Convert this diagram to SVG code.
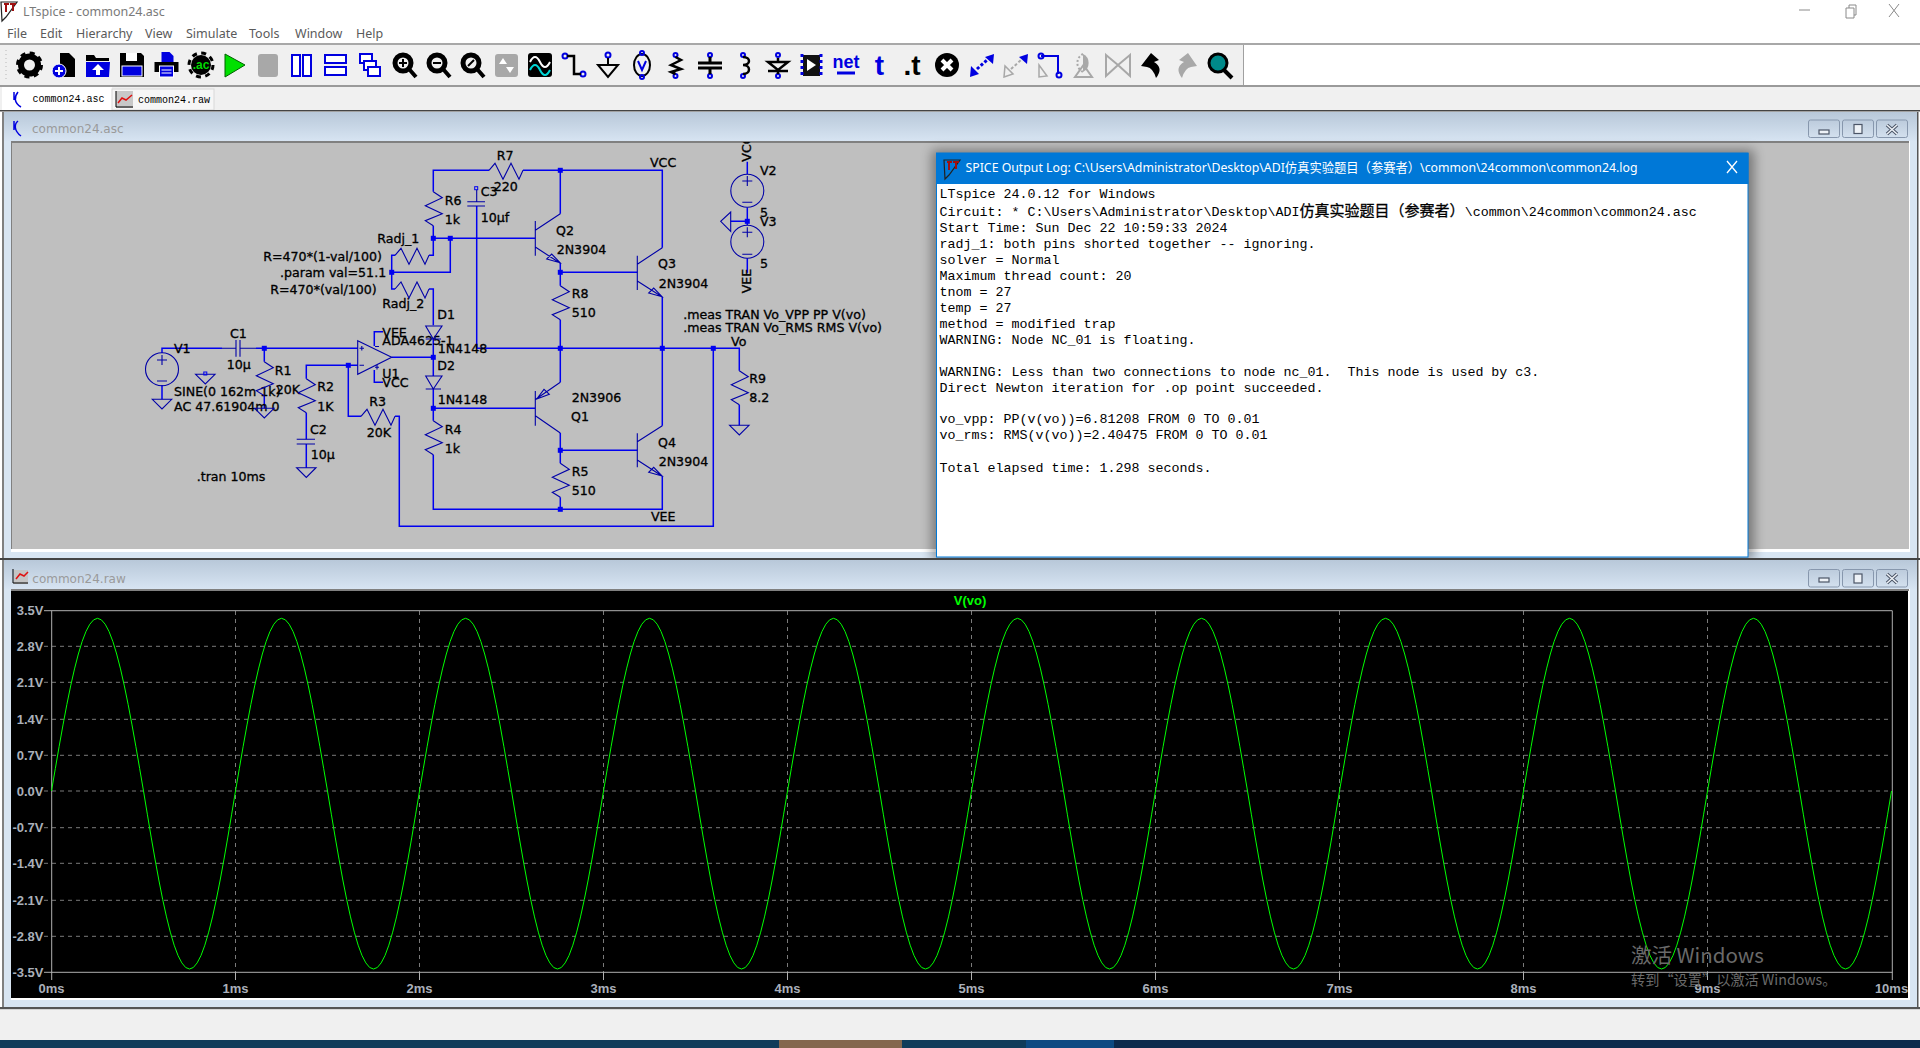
<svg xmlns="http://www.w3.org/2000/svg" xmlns:xlink="http://www.w3.org/1999/xlink" width="1920" height="1048" viewBox="0 0 1920 1048">
<style>
.ui{font-family:"Noto Sans","Liberation Sans",sans-serif;font-size:12.5px;fill:#5a5a5a}
.s{font-family:"DejaVu Sans",Verdana,sans-serif;font-size:12.6px;fill:#000;stroke:#000;stroke-width:.32px}
.w{fill:none;stroke:#0000f0;stroke-width:1.5}
.c{fill:none;stroke:#0000a8;stroke-width:1.1}
.n{fill:#0000f0}
.log{font-family:"Liberation Mono","Noto Sans CJK SC",monospace;font-size:13.33px;fill:#000}
.cjk{font-family:"Noto Sans CJK SC",sans-serif;font-size:15px;stroke:#000;stroke-width:.3px}
.ax{font-family:"Liberation Sans",Arial,sans-serif;font-weight:bold;font-size:13px;fill:#aab0ba}
.dash{fill:none;stroke:#7a7a7a;stroke-width:1;stroke-dasharray:4 4}
.tit{font-family:"DejaVu Sans",Verdana,sans-serif;font-size:12px;fill:#9a9a9a}
.tab{font-family:"Liberation Mono",monospace;font-size:10px;fill:#000}
.bt{fill:url(#btn);stroke:#8797ad;stroke-width:1}
.gl{fill:#eef2f7;stroke:#4b5567;stroke-width:1.2}
.ib{fill:#0000e0}.ik{fill:#000}.ig{fill:#a8a8a8}
</style>
<defs>
<linearGradient id="tb" x1="0" y1="0" x2="0" y2="1"><stop offset="0" stop-color="#b8c8d9"/><stop offset="1" stop-color="#d7e4f2"/></linearGradient>
<linearGradient id="btn" x1="0" y1="0" x2="0" y2="1"><stop offset="0" stop-color="#bccbdc"/><stop offset="1" stop-color="#d3e0ee"/></linearGradient>
<filter id="sh" x="-5%" y="-5%" width="110%" height="110%"><feGaussianBlur stdDeviation="6"/></filter>
<path id="rv" d="M0 0L9 6L-8 14L9 22L-8 29L0 34"/>
<path id="rh" d="M0 0L6 -7L14 9L22 -7L30 9L34 0"/>
<path id="gnd" d="M-9.7 0H9.7L0 9.7Z"/>
<g id="lt"><path d="M1 2H17L6 17L2 21Z" fill="none" stroke="#222" stroke-width="1.2"/><path d="M4 4H9M6 4V12M10 4H16M13 4V11" stroke="#a01010" stroke-width="2" fill="none"/></g>
<polyline id="per" fill="none" stroke="#00ff00" stroke-width="1" points="0,0 3.83,-22.5 7.67,-44.7 11.5,-66.1 15.33,-86.4 19.17,-105.1 23,-122.1 26.83,-137 30.67,-149.6 34.5,-159.6 38.33,-166.8 42.17,-171.2 46,-172.7 49.83,-171.2 53.67,-166.8 57.5,-159.6 61.33,-149.6 65.17,-137 69,-122.1 72.83,-105.1 76.67,-86.4 80.5,-66.1 84.33,-44.7 88.17,-22.5 92,0 95.83,23.2 99.67,46.1 103.5,68.1 107.33,89 111.17,108.4 115,125.9 118.83,141.2 122.67,154.2 126.5,164.5 130.33,171.9 134.17,176.5 138,178 141.83,176.5 145.67,171.9 149.5,164.5 153.33,154.2 157.17,141.2 161,125.9 164.83,108.4 168.67,89 172.5,68.1 176.33,46.1 180.17,23.2 184,0"/>
<clipPath id="sc"><rect x="12" y="142" width="1897" height="407"/></clipPath>
</defs>

<rect width="1920" height="1048" fill="#fff"/>
<g id="titlebar">
<use xlink:href="#lt" href="#lt" x="0" y="0"/>
<text class="ui" x="23" y="16" style="fill:#7a7a7a">LTspice - common24.asc</text>
<path d="M1799 10H1810M1846 8H1854V18H1846ZM1849 8V5H1856V15H1854M1889 4L1899 17M1899 4L1889 17" fill="none" stroke="#8a8a8a" stroke-width="1"/>
</g>
<g id="menu">
<text class="ui" x="7" y="38">File</text><text class="ui" x="40" y="38">Edit</text><text class="ui" x="76" y="38">Hierarchy</text><text class="ui" x="145" y="38">View</text><text class="ui" x="186" y="38">Simulate</text><text class="ui" x="249" y="38">Tools</text><text class="ui" x="295" y="38">Window</text><text class="ui" x="356" y="38">Help</text>
</g>
<g id="toolbar">
<rect x="0" y="43" width="1920" height="2" fill="#a8a8a8"/>
<rect x="0" y="45" width="1243" height="40" fill="#f0f0f0"/>
<rect x="1243" y="45" width="1" height="40" fill="#a0a0a0"/>
<rect x="0" y="85" width="1920" height="2" fill="#9a9a9a"/>
<path d="M6 50V80" stroke="#b8b8b8" stroke-dasharray="1 3"/>
<g transform="translate(29.5,65)"><circle r="8.5" fill="none" stroke="#000" stroke-width="6"/><circle r="12" fill="none" stroke="#000" stroke-width="3" stroke-dasharray="5 4.4"/></g>
<g transform="translate(64,65)"><path class="ik" d="M-4 -12H5L11 -6V12H-4Z"/><circle cx="-5" cy="6" r="7" fill="#0000e0" stroke="#fff"/><path d="M-9 6H-1M-5 2V10" stroke="#fff" stroke-width="2"/></g>
<g transform="translate(98,65)"><path class="ik" d="M-12 -10H-4L-2 -7H11V-4H-12Z"/><path class="ib" d="M-12 -3H12L11 12H-12Z"/><path d="M0 -1L6 5H2V10H-2V5H-6Z" fill="#fff"/></g>
<g transform="translate(132,65)"><path class="ik" d="M-12 -12H9L12 -9V12H-12Z"/><rect x="-6" y="-12" width="11" height="8" fill="#fff"/><rect x="-10" y="1" width="20" height="10" fill="#0000e0" stroke="#fff"/></g>
<g transform="translate(166.5,65)"><path class="ib" d="M-5 -13H3L7 -9V-3H-5Z"/><path class="ik" d="M-12 -3H12V7H-12Z"/><rect x="-7" y="1" width="14" height="11" fill="#0000e0" stroke="#fff"/><path d="M-5 5H5M-5 8H5" stroke="#fff"/></g>
<g transform="translate(201,65)"><circle r="10" class="ik"/><circle r="12" fill="none" stroke="#000" stroke-width="3" stroke-dasharray="5 4.4"/><text x="0" y="4" text-anchor="middle" font-family="Liberation Sans,sans-serif" font-weight="bold" font-size="12" fill="#00d800">.ac</text></g>
<path d="M225 54L245 65L225 77Z" fill="#00e000" stroke="#006000" stroke-width="1"/>
<rect x="258" y="54" width="20" height="23" rx="3" class="ig"/>
<g fill="#fff" stroke="#0000e0" stroke-width="2"><rect x="292" y="55" width="8" height="21"/><rect x="303" y="55" width="8" height="21"/><rect x="325" y="55" width="21" height="8"/><rect x="325" y="67" width="21" height="8"/><rect x="360" y="54" width="12" height="9"/><rect x="364" y="61" width="12" height="9"/><rect x="368" y="67" width="12" height="9"/></g>
<g fill="none" stroke="#000"><circle cx="403" cy="63" r="8" stroke-width="5"/><path d="M409 69L416 77M443 69L450 77M477 69L484 77" stroke-width="4"/><circle cx="437" cy="63" r="8" stroke-width="5"/><circle cx="471" cy="63" r="8" stroke-width="5"/><path d="M399 63H407M403 59V67M433 63H441" stroke-width="2"/><path d="M468 66L474 60" stroke-width="2"/></g>
<rect x="495" y="54" width="23" height="23" rx="3" class="ig"/><path d="M503 58L507 64H499ZM510 73L514 67H506Z" fill="#fff"/>
<rect x="528" y="53" width="24" height="24" rx="3" fill="#000"/><path d="M530 62Q535 52 540 62T550 62" fill="none" stroke="#fff" stroke-width="2"/><path d="M530 70Q535 60 540 70T550 70" fill="none" stroke="#00d8d8" stroke-width="2"/>
<g fill="none" stroke="#0000e0" stroke-width="2"><circle cx="565" cy="56" r="2.5"/><circle cx="583" cy="74" r="2.5"/></g><path d="M567 56H574V74H581" fill="none" stroke="#000" stroke-width="2.5"/>
<g id="tb-gnd"><circle cx="608" cy="55" r="2.5" fill="none" stroke="#0000e0" stroke-width="2"/><path d="M608 58V65M598 65H618L608 77Z" fill="none" stroke="#000" stroke-width="2"/></g>
<g id="tb-label"><ellipse cx="642" cy="65" rx="8" ry="11" fill="none" stroke="#000" stroke-width="2"/><circle cx="642" cy="53" r="2" fill="none" stroke="#0000e0" stroke-width="2"/><circle cx="642" cy="77" r="2" fill="none" stroke="#0000e0" stroke-width="2"/><path d="M638 61L642 70L646 61" fill="none" stroke="#0000e0" stroke-width="2"/></g>
<g fill="none" stroke="#0000e0" stroke-width="2"><circle cx="675.500" cy="55" r="2"/><circle cx="675.500" cy="76" r="2"/><circle cx="710" cy="55" r="2"/><circle cx="710" cy="76" r="2"/><circle cx="743" cy="55" r="2"/><circle cx="743" cy="76" r="2"/><circle cx="778" cy="55" r="2"/><circle cx="778" cy="76" r="2"/></g>
<path d="M675.500 57L681 60L671 65L681 69L671 72L675.500 74" fill="none" stroke="#000" stroke-width="2.5"/>
<path d="M710 57V63M698 63H722M698 68H722M710 68V74" fill="none" stroke="#000" stroke-width="3"/>
<path d="M743 57C751 57 751 65 743 65C751 65 751 74 743 74" fill="none" stroke="#000" stroke-width="2.5"/>
<path d="M778 58V62M768 62H788L778 70ZM768 71H788M778 71V74" fill="none" stroke="#000" stroke-width="2.5"/>
<rect x="803" y="55" width="17" height="21" fill="#111"/><path d="M807 59L816 65L807 71Z" fill="#fff"/><path d="M802 54V78M821 54V78" stroke="#0000e0" stroke-width="3" stroke-dasharray="3 3"/>
<text x="846" y="68" text-anchor="middle" font-family="Liberation Sans,sans-serif" font-weight="bold" font-size="18" fill="#0000e0">net</text><path d="M837 73H855" stroke="#0000e0" stroke-width="3"/>
<text x="879.500" y="75" text-anchor="middle" font-family="Liberation Sans,sans-serif" font-weight="bold" font-size="28" fill="#0000e0">t</text>
<text x="912" y="75" text-anchor="middle" font-family="Liberation Sans,sans-serif" font-weight="bold" font-size="28" fill="#000">.t</text>
<g transform="translate(947,65)"><circle r="12" fill="#000"/><path d="M-5 -5L5 5M5 -5L-5 5" stroke="#fff" stroke-width="4"/></g>
<path d="M994 54L985 57L993 64ZM970 77L979 74L971 66Z" fill="#0000e0"/><path d="M977 69L987 60" stroke="#0000e0" stroke-width="3" stroke-dasharray="3 2"/>
<path d="M1028 54L1019 57L1027 64Z" fill="#0000e0"/><path d="M1004 77L1013 74L1005 66Z" fill="none" stroke="#a8a8a8" stroke-width="1.500"/><path d="M1011 69L1021 60" stroke="#a8a8a8" stroke-width="2" stroke-dasharray="3 2"/>
<path d="M1041 56H1058V74" fill="none" stroke="#0000e0" stroke-width="2"/><circle cx="1041" cy="56" r="2.500" fill="none" stroke="#0000e0" stroke-width="2"/><circle cx="1059" cy="75" r="2.500" fill="none" stroke="#0000e0" stroke-width="2"/><path d="M1039 65L1047 76L1039 77Z" fill="none" stroke="#a8a8a8" stroke-width="1.500"/>
<path d="M1083 54A10 10 0 0 1 1083 72Z" fill="#a8a8a8"/><path d="M1083 54A10 10 0 0 0 1083 72" fill="none" stroke="#a8a8a8" stroke-width="2" stroke-dasharray="2 2"/><path d="M1075 77H1092L1083.500 65Z" fill="none" stroke="#a8a8a8" stroke-width="2"/>
<path d="M1106 55L1118 65L1106 76ZM1130 55L1118 65L1130 76Z" fill="none" stroke="#a8a8a8" stroke-width="2"/>
<path d="M1151 53L1141 66L1147 67Q1153 68 1156 78Q1164 68 1154 62L1159 60Z" fill="#000"/>
<path d="M1188 53L1197 66L1191 67Q1185 68 1182 78Q1174 68 1184 62L1179 60Z" fill="#a8a8a8"/>
<g><circle cx="1218" cy="63" r="9" fill="#008a8a" stroke="#000" stroke-width="3"/><path d="M1224 70L1232 78" stroke="#000" stroke-width="4"/></g>
</g>

<g id="tabs">
<rect x="0" y="87" width="1920" height="23" fill="#f0f0f0"/>
<rect x="2" y="87" width="110" height="23" fill="#fff"/>
<rect x="112" y="89" width="102" height="21" fill="#f6f6f6" stroke="#d8d8d8"/>
<path d="M18 92C14 97 14 103 21 107M14 92V100" fill="none" stroke="#0000e0" stroke-width="1.500"/>
<text class="tab" x="32.500" y="102">common24.asc</text>
<rect x="116" y="91" width="17" height="17" fill="#c8c8c8"/><path d="M118 103L122 98L126 100L132 95" fill="none" stroke="#e01010" stroke-width="1.500"/><path d="M116 91V107H133" fill="none" stroke="#000"/>
<text class="tab" x="138" y="103">common24.raw</text>
<rect x="0" y="110" width="1920" height="1.500" fill="#444"/>
</g>

<g id="schematic-window">
<rect x="2" y="112" width="1916" height="446" fill="#d8e5f2"/>
<rect x="2" y="112" width="2" height="446" fill="#808080"/>
<rect x="1917" y="112" width="1.500" height="446" fill="#555"/>
<rect x="4" y="112" width="1913" height="29" fill="url(#tb)"/>
<path d="M18 121C14 124 14 131 21 136M14 121V130" fill="none" stroke="#0000e0" stroke-width="1.500"/>
<text class="tit" x="32" y="133">common24.asc</text>
<rect class="bt" x="1808.500" y="120" width="31" height="17.500" rx="2"/><rect class="bt" x="1842.500" y="120" width="31" height="17.500" rx="2"/><rect class="bt" x="1876.500" y="120" width="31" height="17.500" rx="2"/>
<rect class="gl" x="1819" y="130" width="10" height="4"/><rect class="gl" x="1854" y="124.500" width="8" height="9"/><path d="M1887 125L1897 134M1897 125L1887 134" stroke="#4b5567" stroke-width="3.500"/><path d="M1887 125L1897 134M1897 125L1887 134" stroke="#eef2f7" stroke-width="1.500"/>
<rect x="11" y="141" width="1899" height="411" fill="#fff"/>
<rect x="11" y="141" width="1898" height="408" fill="#808080"/>
<rect x="12" y="143" width="1897" height="406" fill="#bfbfbf"/>
</g>

<g id="connectors">
<path class="w" d="M433.300 191.700V170.300H489M523 170.300H662.300V247.700M560.300 170.300V213.700"/>
<path class="w" d="M433.300 225.700V238.300H535M450.300 238.300V272.300H391.700V255.300H395M391.700 272.300V289H395M429 255.300H433.300V238.300M429 289H433.300V325.300M433.300 339V376M433.300 389V420.700M433.300 454.700V509.300H662.300V476.300"/>
<path class="w" d="M391.700 357.300H433.300M433.300 408.300H535"/>
<path class="w" d="M162 353V348.300H222M256 348.300H357.700M264.300 348.300V361.700M264.300 395.700V408.300"/>
<path class="w" d="M162 385V399.300M357.700 365.300H306.300V378.700M306.300 412.700V439.300M306.300 444V467.700"/>
<path class="w" d="M348.300 365.300V416.300H361M395 416.300H399.300V526.300H713.300V348.300"/>
<path class="w" d="M476.700 206V348.300M476.700 348.300H739.300V370.700M739.300 404.700V425.300"/>
<path class="w" d="M560.300 263.300V285.700M560.300 319.700V382.300M560.300 433V463.300M560.300 497.300V509.300M560.300 272.300H637.300M560.300 450.300H637.300M662.300 297V425.700"/>
<path class="w" d="M374.300 346V331.700H383M374.300 370V382.300H383"/>
<path class="w" d="M747.300 161.700V174M747.300 207.400V225M747.300 258.300V272.700M730.700 221.300H747.300"/>
</g>
<g id="nodes-dots" class="n">
<rect x="261.800" y="345.800" width="5" height="5"/><rect x="345.800" y="362.800" width="5" height="5"/><rect x="389.200" y="269.800" width="5" height="5"/><rect x="430.800" y="235.800" width="5" height="5"/><rect x="447.800" y="235.800" width="5" height="5"/><rect x="430.800" y="354.800" width="5" height="5"/><rect x="430.800" y="405.800" width="5" height="5"/><rect x="557.800" y="167.800" width="5" height="5"/><rect x="557.800" y="269.800" width="5" height="5"/><rect x="557.800" y="345.800" width="5" height="5"/><rect x="659.800" y="345.800" width="5" height="5"/><rect x="710.800" y="345.800" width="5" height="5"/><rect x="557.800" y="447.800" width="5" height="5"/><rect x="557.800" y="506.800" width="5" height="5"/><rect x="744.800" y="218.800" width="5" height="5"/>
</g>

<g id="V1"><circle class="c" cx="162" cy="369.300" r="16.500"/><path class="c" d="M157 360H167M162 355V365M157 381H167"/><use class="c" xlink:href="#gnd" href="#gnd" x="162" y="399.300"/><text class="s" x="174" y="353">V1</text><text class="s" x="174" y="396">SINE(0 162m 1k)</text><text class="s" x="174" y="410.700">AC 47.61904m 0</text></g>
<g id="FLOAT-GND"><use class="c" xlink:href="#gnd" href="#gnd" x="205.300" y="374.300"/><rect x="203.800" y="372" width="3" height="3" fill="none" stroke="#0000f0"/></g>
<g id="C1"><path class="c" d="M222 348.300H236M240 348.300H256M236 340V356.700M240 340V356.700"/><text class="s" x="230" y="338">C1</text><text class="s" x="226.700" y="369.300">10µ</text></g>
<g id="R1"><use class="c" xlink:href="#rv" href="#rv" x="264.300" y="361.700"/><use class="c" xlink:href="#gnd" href="#gnd" x="264.300" y="408.300"/><text class="s" x="274.700" y="375">R1</text><text class="s" x="275.700" y="394">20K</text></g>
<g id="R2"><use class="c" xlink:href="#rv" href="#rv" x="306.300" y="378.700"/><text class="s" x="317.300" y="391">R2</text><text class="s" x="317.300" y="410.700">1K</text></g>
<g id="C2"><path class="c" d="M296.700 439.300H315M296.700 444H315"/><use class="c" xlink:href="#gnd" href="#gnd" x="306.300" y="467.700"/><text class="s" x="310" y="434">C2</text><text class="s" x="310.700" y="459">10µ</text></g>
<g id="R3"><use class="c" xlink:href="#rh" href="#rh" x="361" y="416.300"/><text class="s" x="369.300" y="405.700">R3</text><text class="s" x="366.700" y="436.700">20K</text></g>
<g id="U1"><path class="c" d="M357.700 340.700L391.700 357.300L357.700 374.300Z"/><path class="c" d="M359.500 348.300H364M361.800 346V350.600M359.500 365.300H364M375 346.500H379M375 367.300H379M377 365V369.500"/><text class="s" x="382.300" y="336.700">VEE</text><text class="s" x="382.300" y="345">ADA4625-1</text><text class="s" x="382.300" y="377.700">U1</text><text class="s" x="382.300" y="387">VCC</text></g>
<g id="D1"><path class="c" d="M425.700 326H442L433.300 339ZM425.700 339H441"/><text class="s" x="437.300" y="319">D1</text><text class="s" x="437.700" y="352.700">1N4148</text></g>
<g id="D2"><path class="c" d="M425.700 376H442L433.300 389ZM425.700 389H441"/><text class="s" x="437.300" y="370">D2</text><text class="s" x="437.700" y="404">1N4148</text></g>
<g id="R4"><use class="c" xlink:href="#rv" href="#rv" x="433.300" y="420.700"/><text class="s" x="444.700" y="434">R4</text><text class="s" x="444.700" y="452.700">1k</text></g>
<g id="R6"><use class="c" xlink:href="#rv" href="#rv" x="433.300" y="191.700"/><text class="s" x="444.700" y="205">R6</text><text class="s" x="444.700" y="224">1k</text></g>
<g id="R7"><use class="c" xlink:href="#rh" href="#rh" x="489" y="170.300"/><text class="s" x="496.700" y="160">R7</text><text class="s" x="493.700" y="190.700">220</text></g>
<g id="C3"><rect x="474.700" y="186.700" width="3" height="3" fill="none" stroke="#0000f0"/><path class="c" d="M476.700 190V201.700M467.300 201.700H485M467.300 206H485"/><text class="s" x="480.700" y="196">C3</text><text class="s" x="480.700" y="221.700">10µf</text></g>
<g id="Radj_1"><use class="c" xlink:href="#rh" href="#rh" x="395" y="255.300"/><text class="s" x="377.300" y="242.700">Radj_1</text><text class="s" x="263.300" y="260.700">R=470*(1-val/100)</text></g>
<g id="Radj_2"><use class="c" xlink:href="#rh" href="#rh" x="395" y="289"/><text class="s" x="382.300" y="308.300">Radj_2</text><text class="s" x="270.300" y="294">R=470*(val/100)</text></g>
<g id="Q2"><path class="c" d="M535.300 221V255.700M535.700 230L560.300 213.700M535.700 247.300L560.300 263.300M560 262.700L551.700 254L546.700 259Z"/><text class="s" x="556" y="235">Q2</text><text class="s" x="556.700" y="254">2N3904</text></g>
<g id="Q3"><path class="c" d="M637.300 255.700V290M637.300 264.300L662.300 247.700M637.300 281L662.300 297M662 296.700L653.700 288L648.700 293Z"/><text class="s" x="658" y="268">Q3</text><text class="s" x="658.700" y="287.700">2N3904</text></g>
<g id="Q1"><path class="c" d="M535.300 391V425.700M535.700 399.300L560.300 382.300M535.700 416L560.300 433M536.700 399L549.300 394.300L544 389.300Z"/><text class="s" x="571.700" y="401.700">2N3906</text><text class="s" x="571" y="420.700">Q1</text></g>
<g id="Q4"><path class="c" d="M637.300 433.300V467.300M637.300 441.700L662.300 425.700M637.300 460L662.300 476.300M662 476L653.700 467.300L648.700 472.300Z"/><text class="s" x="658" y="446.700">Q4</text><text class="s" x="658.700" y="465.700">2N3904</text></g>
<g id="R8"><use class="c" xlink:href="#rv" href="#rv" x="560.300" y="285.700"/><text class="s" x="571.700" y="298">R8</text><text class="s" x="571.700" y="316.700">510</text></g>
<g id="R5"><use class="c" xlink:href="#rv" href="#rv" x="560.300" y="463.300"/><text class="s" x="571.700" y="475.700">R5</text><text class="s" x="571.700" y="495">510</text></g>
<g id="R9"><use class="c" xlink:href="#rv" href="#rv" x="739.300" y="370.700"/><use class="c" xlink:href="#gnd" href="#gnd" x="739.300" y="425.300"/><text class="s" x="749.300" y="382.700">R9</text><text class="s" x="749.300" y="401.700">8.2</text><text class="s" x="731" y="345.700">Vo</text></g>
<g id="V2" clip-path="url(#sc)"><circle class="c" cx="747.300" cy="190.700" r="16.500"/><path class="c" d="M742.300 181H752.300M747.300 176V186M742.300 202.300H752.300"/><text class="s" x="760" y="174.700">V2</text><text class="s" x="760" y="217.300">5</text><text class="s" transform="translate(750.500,161.700) rotate(-90)">VCC</text></g>
<g id="V3"><circle class="c" cx="747.300" cy="241.700" r="16.500"/><path class="c" d="M742.300 232.300H752.300M747.300 227.300V237.300M742.300 254.300H752.300M730.700 212V231.300L720.700 221.300Z"/><text class="s" x="760" y="226">V3</text><text class="s" x="760" y="268">5</text><text class="s" transform="translate(750.700,293.300) rotate(-90)">VEE</text></g>
<g id="labels"><text class="s" x="650" y="167.300">VCC</text><text class="s" x="651" y="520.700">VEE</text><text class="s" x="280" y="277.300">.param val=51.1</text><text class="s" x="196.700" y="480.700">.tran 10ms</text><text class="s" x="683.300" y="319">.meas TRAN Vo_VPP PP V(vo)</text><text class="s" x="683.300" y="332.300">.meas TRAN Vo_RMS RMS V(vo)</text></g>

<g id="log-window">
<rect x="932" y="150" width="822" height="410" fill="#000" opacity=".38" filter="url(#sh)"/>
<rect x="936.500" y="153" width="811.500" height="404" fill="#fff" stroke="#0078d7"/>
<rect x="936" y="153" width="812.500" height="31" fill="#0078d7"/>
<use xlink:href="#lt" href="#lt" x="943" y="158"/>
<text x="965.500" y="172" font-family="Noto Sans,Noto Sans CJK SC,sans-serif" font-size="13" fill="#fff" textLength="672" lengthAdjust="spacingAndGlyphs">SPICE Output Log: C:\Users\Administrator\Desktop\ADI仿真实验题目（参赛者）\common\24common\common24.log</text>
<path d="M1727 161L1737 173M1737 161L1727 173" stroke="#fff" stroke-width="1.300"/>
<text class="log" x="939.500" y="197.700">LTspice 24.0.12 for Windows</text>
<text class="log" x="939.500" y="215.700">Circuit: * C:\Users\Administrator\Desktop\ADI<tspan class="cjk" x="1299.500">仿真实验题目（参赛者）</tspan><tspan x="1464.700">\common\24common\common24.asc</tspan></text>
<text class="log" x="939.500" y="231.700">Start Time: Sun Dec 22 10:59:33 2024</text>
<text class="log" x="939.500" y="247.700">radj_1: both pins shorted together -- ignoring.</text>
<text class="log" x="939.500" y="263.700">solver = Normal</text>
<text class="log" x="939.500" y="279.700">Maximum thread count: 20</text>
<text class="log" x="939.500" y="295.700">tnom = 27</text>
<text class="log" x="939.500" y="311.700">temp = 27</text>
<text class="log" x="939.500" y="327.700">method = modified trap</text>
<text class="log" x="939.500" y="343.700">WARNING: Node NC_01 is floating.</text>
<text class="log" x="939.500" y="375.700" xml:space="preserve">WARNING: Less than two connections to node nc_01.  This node is used by c3.</text>
<text class="log" x="939.500" y="391.700">Direct Newton iteration for .op point succeeded.</text>
<text class="log" x="939.500" y="423.300">vo_vpp: PP(v(vo))=6.81208 FROM 0 TO 0.01</text>
<text class="log" x="939.500" y="439.300">vo_rms: RMS(v(vo))=2.40475 FROM 0 TO 0.01</text>
<text class="log" x="939.500" y="471.700">Total elapsed time: 1.298 seconds.</text>
</g>

<g id="plot-window">
<rect x="0" y="558" width="1920" height="2" fill="#444"/>
<rect x="2" y="560" width="1916" height="447" fill="#d8e5f2"/>
<rect x="2" y="560" width="2" height="447" fill="#808080"/>
<rect x="1917" y="560" width="1.500" height="447" fill="#555"/>
<rect x="4" y="560" width="1913" height="29" fill="url(#tb)"/>
<rect x="14" y="570" width="14" height="14" fill="#c4c4c4"/><path d="M16 579L20 574L24 576L28 572" fill="none" stroke="#e01010" stroke-width="1.500"/><path d="M13 569V583H28" fill="none" stroke="#000"/>
<text class="tit" x="32.300" y="582.700">common24.raw</text>
<rect class="bt" x="1808.500" y="569.500" width="31" height="17.500" rx="2"/><rect class="bt" x="1842.500" y="569.500" width="31" height="17.500" rx="2"/><rect class="bt" x="1876.500" y="569.500" width="31" height="17.500" rx="2"/>
<rect class="gl" x="1819" y="578" width="10" height="4"/><rect class="gl" x="1854" y="574" width="8" height="9"/><path d="M1887 574L1897 583M1897 574L1887 583" stroke="#4b5567" stroke-width="3.500"/><path d="M1887 574L1897 583M1897 574L1887 583" stroke="#eef2f7" stroke-width="1.500"/>
<rect x="11" y="589" width="1899" height="411" fill="#fff"/>
<rect x="11" y="589" width="1898" height="2" fill="#808080"/>
<rect x="11" y="591" width="1897" height="407" fill="#000"/>
</g>
<g id="plot">
<path class="dash" d="M44 646.300H1892M44 682.300H1892M44 719.300H1892M44 755.300H1892M44 791H1892M44 827.700H1892M44 863.300H1892M44 900.300H1892M44 936.300H1892"/>
<path class="dash" d="M235.500 611V972M419.500 611V972M603.500 611V972M787.500 611V972M971.500 611V972M1155.500 611V972M1339.500 611V972M1523.500 611V972M1707.500 611V972"/>
<path d="M44 610.700H1892.300V972.300H51.700V610.700M51.700 972V980M235.500 972V980M419.500 972V980M603.500 972V980M787.500 972V980M971.500 972V980M1155.500 972V980M1339.500 972V980M1523.500 972V980M1707.500 972V980M1892.300 972V980M44 972.300H52" fill="none" stroke="#b0b0b0" stroke-width="1"/>
<g text-anchor="end" class="ax"><text x="43.500" y="615">3.5V</text><text x="43.500" y="651">2.8V</text><text x="43.500" y="687">2.1V</text><text x="43.500" y="724">1.4V</text><text x="43.500" y="760">0.7V</text><text x="43.500" y="796">0.0V</text><text x="43.500" y="832">-0.7V</text><text x="43.500" y="868">-1.4V</text><text x="43.500" y="905">-2.1V</text><text x="43.500" y="941">-2.8V</text><text x="43.500" y="977">-3.5V</text></g>
<g text-anchor="middle" class="ax"><text x="51.500" y="993">0ms</text><text x="235.500" y="993">1ms</text><text x="419.500" y="993">2ms</text><text x="603.500" y="993">3ms</text><text x="787.500" y="993">4ms</text><text x="971.500" y="993">5ms</text><text x="1155.500" y="993">6ms</text><text x="1339.500" y="993">7ms</text><text x="1523.500" y="993">8ms</text><text x="1707.500" y="993">9ms</text><text x="1891.500" y="993">10ms</text></g>
<text x="970" y="605" text-anchor="middle" font-family="Liberation Sans,sans-serif" font-weight="bold" font-size="13" fill="#00ff00">V(vo)</text>
<g id="trace" transform="translate(51.500,791)">
<use xlink:href="#per" href="#per" x="0"/><use xlink:href="#per" href="#per" x="184"/><use xlink:href="#per" href="#per" x="368"/><use xlink:href="#per" href="#per" x="552"/><use xlink:href="#per" href="#per" x="736"/><use xlink:href="#per" href="#per" x="920"/><use xlink:href="#per" href="#per" x="1104"/><use xlink:href="#per" href="#per" x="1288"/><use xlink:href="#per" href="#per" x="1472"/><use xlink:href="#per" href="#per" x="1656"/>
</g>
<text x="1631" y="963" font-family="Noto Sans CJK SC,Noto Sans,sans-serif" font-size="20.500" fill="#6a6a6a">激活 Windows</text>
<text x="1631" y="985" font-family="Noto Sans CJK SC,Noto Sans,sans-serif" font-size="14.200" fill="#6a6a6a">转到“设置”以激活 Windows。</text>
</g>
<g id="statusbar">
<rect x="0" y="1007" width="1920" height="2" fill="#555"/>
<rect x="0" y="1009" width="1920" height="31" fill="#f0f0f0"/>
<rect x="0" y="1009" width="1920" height="1" fill="#d4d4d4"/>
<rect x="0" y="1040" width="1920" height="8" fill="#0c2a4c"/>
<rect x="0" y="1040" width="779" height="8" fill="#103c5a"/>
<rect x="779" y="1040" width="123" height="8" fill="#84674e"/>
<rect x="902" y="1040" width="124" height="8" fill="#103c5a"/>
<rect x="1026" y="1040" width="88" height="8" fill="#0d4a82"/>
</g>
</svg>
